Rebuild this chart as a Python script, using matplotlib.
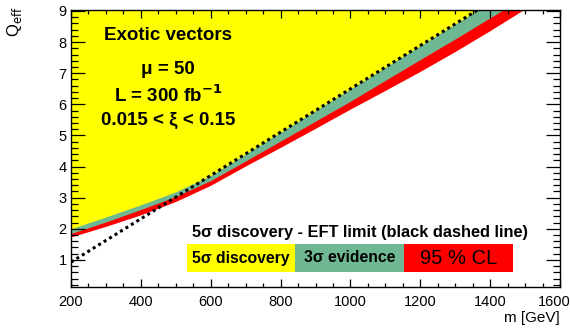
import numpy as np
import matplotlib
matplotlib.use("Agg")
import matplotlib.pyplot as plt
import matplotlib.transforms as mtransforms
from matplotlib.patches import Rectangle
from matplotlib.ticker import MultipleLocator

plt.rcParams['font.family'] = ['Liberation Sans', 'DejaVu Sans']

# mass grid [GeV]
mass = [200, 300, 400, 500, 600, 700, 800, 900, 1000, 1100, 1200, 1300, 1400, 1500, 1600]
# lower edges of the bands (Q_eff)
q_5sigma = [2.00, 2.38, 2.77, 3.19, 3.62, 4.25, 4.90, 5.55, 6.20, 6.88, 7.56, 8.23, 8.92, 9.60, 10.30]
q_3sigma = [1.85, 2.22, 2.62, 3.04, 3.55, 4.18, 4.82, 5.46, 6.10, 6.77, 7.44, 8.10, 8.78, 9.46, 10.15]
q_95cl = [1.74, 2.08, 2.45, 2.88, 3.40, 4.02, 4.62, 5.23, 5.85, 6.45, 7.06, 7.70, 8.37, 9.07, 9.75]
# EFT limit (black dashed line)
eft_mass = [200, 1400]
eft_q = [0.93, 9.28]

c_yellow = '#ffff00'
c_green = '#6fb894'
c_red = '#ff0000'

W, H = 570, 329
fig = plt.figure(figsize=(W / 100, H / 100), dpi=100)
ax = fig.add_axes([71 / W, 1 - 287 / H, (560 - 71) / W, (287 - 10) / H])

m = np.array(mass)
slope = (eft_q[1] - eft_q[0]) / (eft_mass[1] - eft_mass[0])
eft_on_grid = eft_q[0] + (m - eft_mass[0]) * slope
yellow_low = np.maximum(q_5sigma, eft_on_grid)

top = 12
ax.fill_between(m, q_95cl, top, color=c_red, lw=0)
ax.fill_between(m, q_3sigma, top, color=c_green, lw=0)
ax.fill_between(m, yellow_low, top, color=c_yellow, lw=0)
ax.plot(eft_mass, eft_q, color='black', lw=2.2, ls=(0, (1, 1.1)))

ax.set_xlim(200, 1600)
ax.set_ylim(0.13, 9.03)
ax.xaxis.set_major_locator(MultipleLocator(200))
ax.xaxis.set_minor_locator(MultipleLocator(50))
ax.yaxis.set_major_locator(MultipleLocator(1))
ax.yaxis.set_minor_locator(MultipleLocator(0.2))
ax.tick_params(which='both', direction='in', top=True, right=True, labelsize=10.5, width=0.9)
ax.tick_params(axis='y', which='major', length=10, pad=3)
ax.tick_params(axis='y', which='minor', length=5)
ax.tick_params(axis='x', which='major', length=6)
ax.tick_params(axis='x', which='minor', length=3)
ax.tick_params(axis='x', pad=6)
for s in ax.spines.values():
    s.set_linewidth(1.0)

fig.text(15 / W, 1 - 22 / H, r'Q$_{\rm eff}$', rotation=90, ha='center', va='center', fontsize=12)
fig.text(560 / W, 1 - 318 / H, 'm [GeV]', ha='right', va='center', fontsize=11)

# physics labels
for txt, y in [('Exotic vectors', 36), ('\u03bc = 50', 70), (r'L = 300 fb$^{\mathbf{-1}}$', 95),
               ('0.015 < \u03be < 0.15', 120)]:
    fig.text(168 / W, 1 - y / H, txt, ha='center', va='center', fontsize=13.5, fontweight='bold')

# legend
fig.text(360 / W, 1 - 232 / H, '5\u03c3 discovery - EFT limit (black dashed line)',
         ha='center', va='center', fontsize=11.8, fontweight='bold')
boxes = [(187, 295, c_yellow, '5\u03c3 discovery', 11.3, 'bold'),
         (295, 404, c_green, '3\u03c3 evidence', 11.3, 'bold'),
         (404, 513, c_red, '95 % CL', 14.5, 'normal')]
for x0, x1, col, lab, fs, fw in boxes:
    fig.patches.append(Rectangle((x0 / W, 1 - 272 / H), (x1 - x0) / W, 28 / H,
                                 transform=fig.transFigure, color=col, lw=0, zorder=5))
    fig.text((x0 + x1) / 2 / W, 1 - 258 / H, lab, ha='center', va='center',
             fontsize=fs, fontweight=fw, zorder=6)

# keep the last x label inside the picture
fig.canvas.draw()
last = ax.xaxis.get_major_ticks()[-1].label1
shift = mtransforms.ScaledTranslation(-6 / 100, 0, fig.dpi_scale_trans)
for t in ax.xaxis.get_major_ticks():
    if t.get_loc() == 1600:
        t.label1.set_transform(t.label1.get_transform() + shift)

fig.savefig('out.png', dpi=100)
